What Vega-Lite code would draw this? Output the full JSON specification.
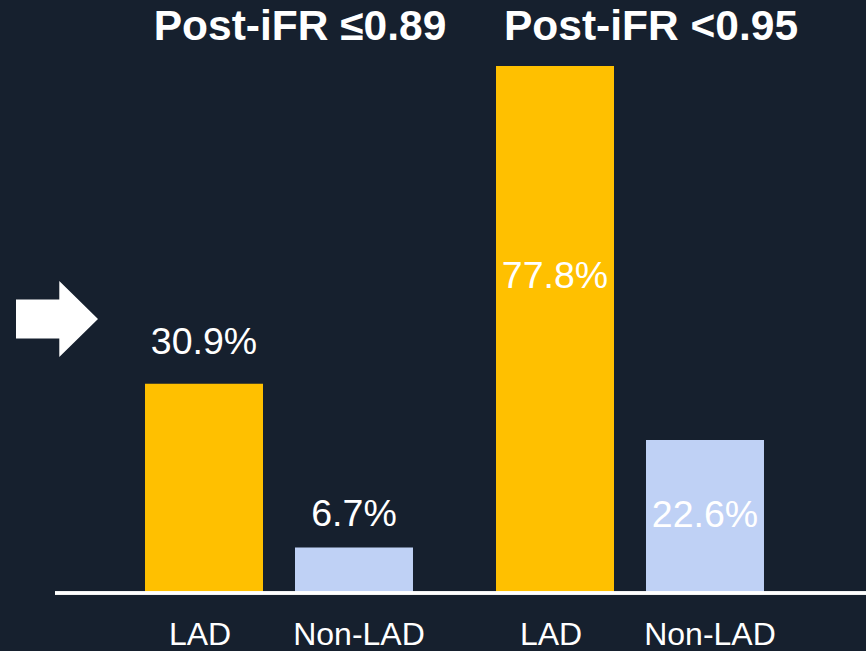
{
  "$schema": "https://vega.github.io/schema/vega-lite/v6.json",
  "width": 811,
  "height": 527,
  "autosize": "none",
  "padding": {"left": 55, "top": 66, "right": 0, "bottom": 58},
  "background": "#16202E",
  "config": {
    "view": {"stroke": null},
    "font": "Liberation Sans",
    "axis": {
      "labelFont": "Liberation Sans",
      "labelFontSize": 42.5,
      "labelFontWeight": "bold",
      "labelColor": "#FFFFFF",
      "labelLimit": 500,
      "labelAngle": 0,
      "labelOffset": 21,
      "labelBaseline": "alphabetic",
      "labelPadding": 27,
      "ticks": false,
      "domain": false,
      "grid": false,
      "title": null
    }
  },
  "data": {
    "values": [
      {"group": "Post-iFR ≤0.89", "bar": "LAD", "value": 30.9, "label": "30.9%"},
      {"group": "Post-iFR ≤0.89", "bar": "Non-LAD", "value": 6.7, "label": "6.7%"},
      {"group": "Post-iFR <0.95", "bar": "LAD", "value": 77.8, "label": "77.8%"},
      {"group": "Post-iFR <0.95", "bar": "Non-LAD", "value": 22.6, "label": "22.6%"}
    ]
  },
  "layer": [
    {
      "encoding": {
        "x": {
          "field": "group",
          "type": "nominal",
          "sort": null,
          "scale": {"range": [74, 725], "paddingInner": 0.1453, "paddingOuter": 0},
          "axis": {"orient": "top"}
        },
        "xOffset": {
          "field": "bar",
          "type": "nominal",
          "sort": null,
          "scale": {"paddingInner": 0.2133, "paddingOuter": 0.1067}
        },
        "y": {
          "field": "value",
          "type": "quantitative",
          "scale": {"domain": [0, 77.8], "nice": false, "zero": true},
          "axis": null
        }
      },
      "layer": [
        {
          "mark": {"type": "bar"},
          "encoding": {
            "color": {
              "field": "bar",
              "type": "nominal",
              "scale": {"domain": ["LAD", "Non-LAD"], "range": ["#FFC000", "#BFD1F5"]},
              "legend": null
            }
          }
        },
        {
          "transform": [{"filter": "datum.label == '30.9%'"}],
          "mark": {"type": "text", "fontSize": 37.5, "color": "#FFFFFF", "baseline": "alphabetic", "align": "center", "dy": -30},
          "encoding": {"text": {"field": "label"}}
        },
        {
          "transform": [{"filter": "datum.label == '6.7%'"}],
          "mark": {"type": "text", "fontSize": 37.5, "color": "#FFFFFF", "baseline": "alphabetic", "align": "center", "dy": -22},
          "encoding": {"text": {"field": "label"}}
        },
        {
          "transform": [{"filter": "datum.label == '77.8%'"}],
          "mark": {"type": "text", "fontSize": 37.5, "color": "#FFFFFF", "baseline": "alphabetic", "align": "center", "dy": 222},
          "encoding": {"text": {"field": "label"}}
        },
        {
          "transform": [{"filter": "datum.label == '22.6%'"}],
          "mark": {"type": "text", "fontSize": 37.5, "color": "#FFFFFF", "baseline": "alphabetic", "align": "center", "dy": 87},
          "encoding": {"text": {"field": "label"}}
        },
        {
          "transform": [{"filter": "datum.bar == 'LAD'"}],
          "mark": {"type": "text", "fontSize": 32, "color": "#FFFFFF", "baseline": "alphabetic", "align": "center", "dy": 52, "dx": -4},
          "encoding": {"text": {"field": "bar"}, "y": {"datum": 0}}
        },
        {
          "transform": [{"filter": "datum.bar == 'Non-LAD'"}],
          "mark": {"type": "text", "fontSize": 32, "color": "#FFFFFF", "baseline": "alphabetic", "align": "center", "dy": 52, "dx": 5},
          "encoding": {"text": {"field": "bar"}, "y": {"datum": 0}}
        }
      ]
    },
    {
      "mark": {"type": "rule", "color": "#FFFFFF", "strokeWidth": 3},
      "encoding": {"y": {"datum": 0}}
    },
    {
      "data": {"values": [{"item": "arrow"}]},
      "mark": {
        "type": "point",
        "shape": "M-1,-0.476 L0.056,-0.476 L0.056,-0.927 L1,0 L0.056,0.927 L0.056,0.476 L-1,0.476 Z",
        "size": 6724,
        "filled": true,
        "color": "#FFFFFF",
        "opacity": 1,
        "strokeWidth": 0
      },
      "encoding": {"x": {"value": 2}, "y": {"datum": 40.45}}
    }
  ]
}
